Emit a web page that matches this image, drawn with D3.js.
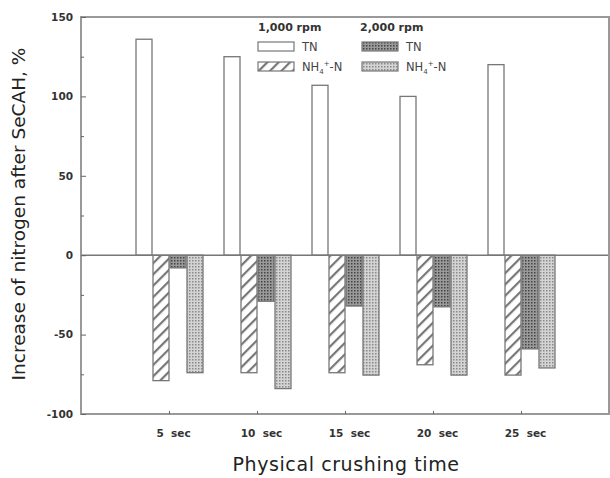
<!DOCTYPE html>
<meta charset="utf-8">
<style>
    body { margin: 0; background: #fff; font-family: "DejaVu Sans", sans-serif; }
    .tick text { font-family: "DejaVu Sans", sans-serif; font-weight: bold; font-size: 10.5px; fill: #333; white-space: pre; }
</style>
<script src="https://d3js.org/d3.v7.min.js"></script>
<div id="chart"></div>
<script>
    // data
    var times = ["5  sec", "10  sec", "15  sec", "20  sec", "25  sec"];
    var series = ["tn1000", "nh1000", "tn2000", "nh2000"];
    var tn1000 = [136, 125, 107, 100, 120];
    var nh1000 = [-79, -74, -74, -69, -75.5];
    var tn2000 = [-8, -29, -32, -32.5, -59];
    var nh2000 = [-74, -84, -75.5, -75.5, -71];
    var yTicks = [-100, -50, 0, 50, 100, 150];

    var W = 610, H = 478;
    var margin = {top: 17, right: 1, bottom: 64, left: 81};
    var width = W - margin.left - margin.right,
        height = H - margin.top - margin.bottom;

    var svg = d3.select("#chart").append("svg")
        .attr("width", W).attr("height", H);

    var defs = svg.append("defs");
    // diagonal hatch
    var p1 = defs.append("pattern").attr("id", "hatch")
        .attr("patternUnits", "userSpaceOnUse").attr("width", 8).attr("height", 8)
        .attr("patternTransform", "rotate(45)");
    p1.append("rect").attr("width", 8).attr("height", 8).attr("fill", "#fff");
    p1.append("rect").attr("width", 2.2).attr("height", 8).attr("fill", "#777");
    // dark crosshatch
    var p2 = defs.append("pattern").attr("id", "dark")
        .attr("patternUnits", "userSpaceOnUse").attr("width", 3).attr("height", 3);
    p2.append("rect").attr("width", 3).attr("height", 3).attr("fill", "#9a9a9a");
    p2.append("rect").attr("width", 1.5).attr("height", 1.5).attr("fill", "#444");
    // light dots
    var p3 = defs.append("pattern").attr("id", "light")
        .attr("patternUnits", "userSpaceOnUse").attr("width", 3).attr("height", 3);
    p3.append("rect").attr("width", 3).attr("height", 3).attr("fill", "#d4d4d4");
    p3.append("rect").attr("width", 1.5).attr("height", 1.5).attr("fill", "#8a8a8a");

    var fills = {tn1000: "#fff", nh1000: "url(#hatch)", tn2000: "url(#dark)", nh2000: "url(#light)"};
    var values = {tn1000: tn1000, nh1000: nh1000, tn2000: tn2000, nh2000: nh2000};

    var g = svg.append("g").attr("transform", "translate(" + margin.left + "," + margin.top + ")");

    var x = d3.scalePoint().domain(times).range([0, width]).padding(1);
    var inner = d3.scaleBand().domain(series).range([-33, 35]).padding(0);
    var y = d3.scaleLinear().domain([-100, 150]).range([height, 0]);

    // bars
    series.forEach(function(s) {
        g.selectAll(".bar-" + s)
            .data(times)
            .enter().append("rect")
            .attr("x", function(d) { return x(d) + inner(s); })
            .attr("width", inner.bandwidth() - 1)
            .attr("y", function(d, i) { return y(Math.max(0, values[s][i])); })
            .attr("height", function(d, i) { return Math.abs(y(values[s][i]) - y(0)); })
            .attr("fill", fills[s])
            .attr("stroke", "#777")
            .attr("stroke-width", 1.3);
    });

    // zero line
    g.append("line")
        .attr("x1", 0).attr("x2", width)
        .attr("y1", y(0)).attr("y2", y(0))
        .attr("stroke", "#777").attr("stroke-width", 1.5);

    // frame
    g.append("rect")
        .attr("width", width).attr("height", height)
        .attr("fill", "none").attr("stroke", "#999").attr("stroke-width", 2);

    // y axis with minor ticks inside
    g.append("g")
        .call(d3.axisLeft(y).tickValues(d3.range(-100, 151, 25)).tickSize(-5)
            .tickFormat(function(d) { return yTicks.indexOf(d) >= 0 ? d : ""; }))
        .call(function(a) {
            a.select(".domain").remove();
            a.selectAll(".tick line").attr("stroke", "#666");
            a.selectAll(".tick").filter(function(d) { return yTicks.indexOf(d) < 0; })
                .select("line").attr("x2", 3);
            a.selectAll(".tick text").attr("x", -8);
        });

    // x axis
    g.append("g")
        .attr("transform", "translate(0," + height + ")")
        .call(d3.axisBottom(x).tickSize(-3))
        .call(function(a) {
            a.select(".domain").remove();
            a.selectAll(".tick line").attr("stroke", "#666");
            a.selectAll(".tick text").attr("y", 16).attr("dx", 4);
        });

    // axis titles
    svg.append("text")
        .attr("x", 346).attr("y", 471)
        .attr("text-anchor", "middle")
        .style("font-size", "19px").style("letter-spacing", "0.6px").style("fill", "#222")
        .text("Physical crushing time");

    svg.append("text")
        .attr("transform", "translate(25,214) rotate(-90)")
        .attr("text-anchor", "middle")
        .style("font-size", "18.5px").style("fill", "#222")
        .text("Increase of nitrogen after SeCAH, %");

    // legend
    var leg = svg.append("g");
    leg.append("text").attr("x", 258).attr("y", 31)
        .style("font-size", "11px").style("font-weight", "bold").style("fill", "#333")
        .text("1,000 rpm");
    leg.append("text").attr("x", 360).attr("y", 31)
        .style("font-size", "11px").style("font-weight", "bold").style("fill", "#333")
        .text("2,000 rpm");

    var legItems = [
        {s: "tn1000", x: 258, y: 42, label: "TN"},
        {s: "nh1000", x: 258, y: 62, label: "NH"},
        {s: "tn2000", x: 362, y: 42, label: "TN"},
        {s: "nh2000", x: 362, y: 62, label: "NH"}
    ];
    legItems.forEach(function(it) {
        leg.append("rect")
            .attr("x", it.x).attr("y", it.y).attr("width", 36).attr("height", 9)
            .attr("fill", fills[it.s]).attr("stroke", "#777").attr("stroke-width", 1.2);
        var t = leg.append("text").attr("x", it.x + 44).attr("y", it.y + 9)
            .style("font-size", "11.5px").style("fill", "#444");
        if (it.label === "TN") {
            t.text("TN");
        } else {
            t.append("tspan").text("NH");
            t.append("tspan").attr("dy", 3).style("font-size", "7px").text("4");
            t.append("tspan").attr("dy", -8).style("font-size", "7px").text("+");
            t.append("tspan").attr("dy", 5).text("-N");
        }
    });
</script>
